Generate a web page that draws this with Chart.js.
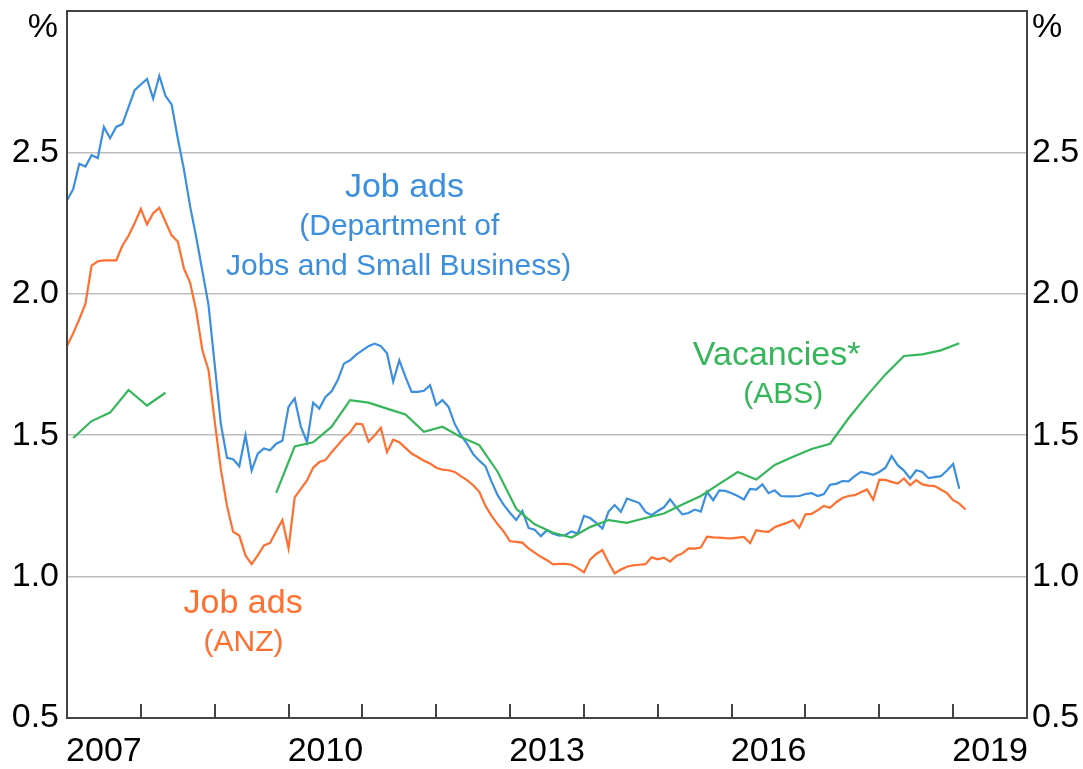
<!DOCTYPE html>
<html>
<head>
<meta charset="utf-8">
<script src="https://cdn.jsdelivr.net/npm/chart.js@4.4.0/dist/chart.umd.min.js"></script>
<style>
  body { margin: 0; background: #fff; }
  #wrap { width: 1083px; height: 769px; }
</style>
</head>
<body>
<div id="wrap"><canvas id="grafico" width="1083" height="769"></canvas></div>
<script>
// monthly series, starting January 2007
const startYear = 2007;
const jobAdsDJSB = [
  2.33, 2.37, 2.46, 2.45, 2.49, 2.48, 2.59, 2.55, 2.59, 2.60, 2.66, 2.72,
  2.74, 2.76, 2.69, 2.77, 2.70, 2.67, 2.55, 2.44, 2.31, 2.20, 2.08, 1.96,
  1.75, 1.54, 1.42, 1.415, 1.39, 1.50, 1.375, 1.435, 1.453, 1.447, 1.47, 1.48,
  1.60, 1.63, 1.53, 1.475, 1.615, 1.594, 1.635, 1.655, 1.695, 1.753, 1.765, 1.785,
  1.80, 1.815, 1.824, 1.815, 1.79, 1.69, 1.765, 1.706, 1.653, 1.653, 1.657, 1.677,
  1.606, 1.624, 1.60, 1.54, 1.50, 1.47, 1.433, 1.41, 1.39, 1.335, 1.287, 1.253,
  1.225, 1.20, 1.232, 1.172, 1.166, 1.143, 1.164, 1.152, 1.145, 1.147, 1.16, 1.152,
  1.215, 1.207, 1.19, 1.17, 1.23, 1.253, 1.229, 1.276, 1.268, 1.26, 1.229, 1.217,
  1.232, 1.245, 1.273, 1.245, 1.22, 1.225, 1.237, 1.23, 1.30, 1.27, 1.305, 1.303,
  1.295, 1.285, 1.273, 1.31, 1.308, 1.326, 1.295, 1.305, 1.285, 1.284, 1.284, 1.285,
  1.292, 1.295, 1.285, 1.292, 1.325, 1.328, 1.338, 1.337, 1.355, 1.37, 1.366, 1.36,
  1.37, 1.385, 1.426, 1.394, 1.375, 1.347, 1.376, 1.37, 1.348, 1.352, 1.355, 1.375,
  1.398, 1.311
];
const jobAdsANZ = [
  1.815, 1.86, 1.91, 1.965, 2.10, 2.115, 2.118, 2.118, 2.118, 2.17, 2.205, 2.25,
  2.30, 2.245, 2.285, 2.304, 2.255, 2.207, 2.185, 2.09, 2.04, 1.94, 1.80, 1.73,
  1.55, 1.38, 1.25, 1.158, 1.145, 1.075, 1.044, 1.075, 1.11, 1.119, 1.16, 1.20,
  1.10, 1.28, 1.31, 1.34, 1.385, 1.405, 1.412, 1.44, 1.465, 1.49, 1.51, 1.541,
  1.539, 1.477, 1.50, 1.526, 1.44, 1.484, 1.475, 1.455, 1.435, 1.423, 1.41, 1.40,
  1.385, 1.378, 1.376, 1.37, 1.355, 1.341, 1.323, 1.30, 1.25, 1.215, 1.185, 1.158,
  1.125, 1.123, 1.12, 1.10, 1.085, 1.07, 1.058, 1.043, 1.045, 1.045, 1.042, 1.03,
  1.015, 1.06, 1.08, 1.094, 1.05, 1.011, 1.025, 1.035, 1.04, 1.042, 1.044, 1.068,
  1.061, 1.067, 1.053, 1.073, 1.082, 1.10, 1.099, 1.103, 1.141, 1.139, 1.138, 1.136,
  1.135, 1.138, 1.14, 1.118, 1.164, 1.16, 1.158, 1.175, 1.183, 1.19, 1.20, 1.173,
  1.22, 1.222, 1.235, 1.25, 1.243, 1.263, 1.278, 1.285, 1.288, 1.298, 1.308, 1.272,
  1.343, 1.342, 1.335, 1.329, 1.347, 1.323, 1.341, 1.326, 1.322, 1.32, 1.308, 1.295,
  1.27, 1.258, 1.237
];

// quarterly vacancies (survey suspended 2008-09, null breaks the line)
const vacancyDates = [
  '2007-02', '2007-05', '2007-08', '2007-11', '2008-02', '2008-05', '2009-02',
  '2009-11', '2010-02', '2010-05', '2010-08', '2010-11', '2011-02', '2011-05', '2011-08', '2011-11',
  '2012-02', '2012-05', '2012-08', '2012-11', '2013-02', '2013-05', '2013-08', '2013-11',
  '2014-02', '2014-05', '2014-08', '2014-11', '2015-02', '2015-05', '2015-08', '2015-11',
  '2016-02', '2016-05', '2016-08', '2016-11', '2017-02', '2017-05', '2017-08', '2017-11',
  '2018-02', '2018-05', '2018-08', '2018-11', '2019-02'
];
const vacancies = [
  1.49, 1.55, 1.58, 1.66, 1.605, 1.65, null,
  1.296, 1.46, 1.475, 1.53, 1.624, 1.615, 1.594, 1.573, 1.512,
  1.53, 1.494, 1.465, 1.37, 1.24, 1.185, 1.155, 1.138,
  1.175, 1.20, 1.19, 1.207, 1.223, 1.255, 1.285, 1.328,
  1.37, 1.343, 1.395, 1.424, 1.451, 1.47, 1.56, 1.64,
  1.715, 1.78, 1.786, 1.80, 1.825
];

const yearLabels = [2007, 2010, 2013, 2016, 2019];
const yTicks = [0.5, 1.0, 1.5, 2.0, 2.5];

const azul = '#3b8fde';
const laranja = '#ff6f30';
const verde = '#35b65a';
const fonte = 'Arial, "Liberation Sans", sans-serif';

function mensal(valores) {
  return valores.map((v, i) => ({ x: startYear + i / 12, y: v }));
}
function dataParaAno(d) {
  const [a, m] = d.split('-').map(Number);
  return a + (m - 1) / 12;
}

// texts on the chart, placed in data coordinates
const rotulos = [
  { t: 'Job ads', x: 2011.57, y: 2.375, c: azul, s: 34 },
  { t: '(Department of', x: 2011.5, y: 2.237, c: azul, s: 30 },
  { t: 'Jobs and Small Business)', x: 2011.49, y: 2.096, c: azul, s: 30 },
  { t: 'Vacancies*', x: 2016.61, y: 1.78, c: verde, s: 34 },
  { t: '(ABS)', x: 2016.70, y: 1.643, c: verde, s: 30 },
  { t: 'Job ads', x: 2009.385, y: 0.905, c: laranja, s: 34 },
  { t: '(ANZ)', x: 2009.39, y: 0.765, c: laranja, s: 30 }
];

const moldura = {
  id: 'moldura',
  afterDatasetsDraw(chart) {
    const { ctx, chartArea: a, scales } = chart;
    ctx.save();
    // frame
    ctx.strokeStyle = '#444';
    ctx.lineWidth = 2;
    ctx.strokeRect(a.left, a.top, a.right - a.left, a.bottom - a.top);
    // inward year ticks
    for (let ano = startYear + 1; ano < 2020; ano++) {
      const px = Math.round(scales.x.getPixelForValue(ano));
      ctx.beginPath();
      ctx.moveTo(px, a.bottom);
      ctx.lineTo(px, a.bottom - 14);
      ctx.stroke();
    }
    // % units
    ctx.fillStyle = '#000';
    ctx.font = '34px ' + fonte;
    ctx.textBaseline = 'middle';
    ctx.textAlign = 'right';
    ctx.fillText('%', a.left - 9, a.top + 17);
    ctx.textAlign = 'left';
    ctx.fillText('%', a.right + 5, a.top + 17);
    // series labels
    ctx.textAlign = 'center';
    rotulos.forEach(r => {
      ctx.fillStyle = r.c;
      ctx.font = r.s + 'px ' + fonte;
      ctx.fillText(r.t, scales.x.getPixelForValue(r.x), scales.y.getPixelForValue(r.y));
    });
    ctx.restore();
  }
};

const eixoY = (pos, largura) => ({
  type: 'linear',
  position: pos,
  min: 0.5,
  max: 3.0,
  afterBuildTicks: s => { s.ticks = yTicks.map(v => ({ value: v })); },
  afterFit: s => {
    s.width = largura;
    s.paddingTop = 0;
    s.paddingBottom = 0;
  },
  ticks: {
    color: '#000',
    font: { family: fonte, size: 34 },
    padding: pos === 'left' ? 8 : 5,
    callback: v => v.toFixed(1)
  },
  grid: {
    display: pos === 'left',
    color: '#bdbdbd',
    lineWidth: 1.5,
    drawTicks: false
  },
  border: { display: false }
});

new Chart(document.getElementById('grafico'), {
  type: 'line',
  data: {
    datasets: [
      {
        label: 'Job ads (ANZ)',
        data: mensal(jobAdsANZ),
        borderColor: laranja,
        borderWidth: 2.2,
        pointRadius: 0,
        yAxisID: 'y'
      },
      {
        label: 'Vacancies (ABS)',
        data: vacancyDates.map((d, i) => ({ x: dataParaAno(d), y: vacancies[i] })),
        borderColor: verde,
        borderWidth: 2.2,
        pointRadius: 0,
        spanGaps: false,
        yAxisID: 'y'
      },
      {
        label: 'Job ads (DJSB)',
        data: mensal(jobAdsDJSB),
        borderColor: azul,
        borderWidth: 2.2,
        pointRadius: 0,
        yAxisID: 'y'
      }
    ]
  },
  options: {
    responsive: false,
    animation: false,
    layout: { padding: { top: 11, left: 0, right: 0, bottom: 0 } },
    plugins: { legend: { display: false }, tooltip: { enabled: false } },
    scales: {
      x: {
        type: 'linear',
        min: 2007,
        max: 2020,
        afterBuildTicks: s => { s.ticks = yearLabels.map(a => ({ value: a + 0.5 })); },
        afterFit: s => {
          s.height = 51;
          s.paddingLeft = 0;
          s.paddingRight = 0;
        },
        ticks: {
          color: '#000',
          font: { family: fonte, size: 34 },
          padding: 5,
          maxRotation: 0,
          autoSkip: false,
          callback: v => String(Math.floor(v))
        },
        grid: { display: false },
        border: { display: false }
      },
      y: eixoY('left', 67),
      y2: eixoY('right', 56)
    }
  },
  plugins: [moldura]
});
</script>
</body>
</html>
